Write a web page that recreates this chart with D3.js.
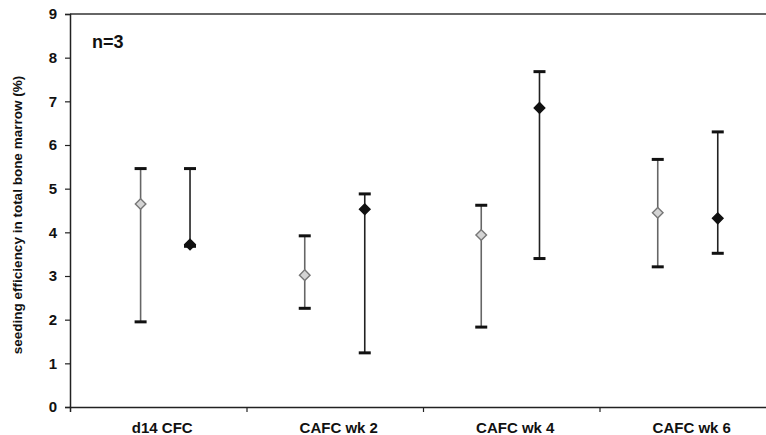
<!DOCTYPE html>
<html>
<head>
<meta charset="utf-8">
<script src="https://cdn.jsdelivr.net/npm/d3@7"></script>
<style>
  body { margin: 0; background: #fff; }
  svg text { font-family: "Liberation Sans", Arial, sans-serif; font-weight: bold; fill: #111; }
</style>
</head>
<body>
<div id="chart"></div>
<script>
// categories on the x axis
var categories = ["d14 CFC", "CAFC wk 2", "CAFC wk 4", "CAFC wk 6"];
var yTicks = [0, 1, 2, 3, 4, 5, 6, 7, 8, 9];

// grey series (open diamonds), x in category units
var greyX = [0.40, 1.33, 2.33, 3.33];
var greyMean = [4.65, 3.02, 3.94, 4.45];
var greyHigh = [5.46, 3.92, 4.62, 5.67];
var greyLow = [1.95, 2.26, 1.83, 3.21];

// black series (filled diamonds)
var blackX = [0.68, 1.67, 2.66, 3.67];
var blackMean = [3.72, 4.53, 6.85, 4.32];
var blackHigh = [5.46, 4.88, 7.68, 6.30];
var blackLow = [3.68, 1.24, 3.40, 3.52];

var W = 766, H = 435;
var margin = {top: 14, left: 70, bottom: 28};
var plotRight = 776; // plot runs past the picture edge

var svg = d3.select("#chart").append("svg")
  .attr("width", W)
  .attr("height", H);

var x = d3.scaleLinear()
  .domain([0, categories.length])
  .range([margin.left, plotRight]);

var y = d3.scaleLinear()
  .domain([0, 9])
  .range([H - margin.bottom, margin.top]);

// top border
svg.append("line")
  .attr("x1", margin.left).attr("x2", W)
  .attr("y1", y(9)).attr("y2", y(9))
  .attr("stroke", "#333").attr("stroke-width", 1.5);

// y axis
var yAxis = svg.append("g")
  .attr("transform", "translate(" + margin.left + ",0)")
  .call(d3.axisLeft(y).tickValues(yTicks).tickSize(5).tickPadding(8).tickFormat(d3.format("d")));
yAxis.select(".domain").attr("stroke", "#222").attr("stroke-width", 1.5);
yAxis.selectAll(".tick line").attr("stroke", "#222").attr("stroke-width", 1.2);
yAxis.selectAll("text").style("font-size", "15px");

// x axis with ticks between categories
var xAxis = svg.append("g")
  .attr("transform", "translate(0," + y(0) + ")")
  .call(d3.axisBottom(x).tickValues(d3.range(1, categories.length)).tickSize(5).tickFormat(""));
xAxis.select(".domain").attr("stroke", "#222").attr("stroke-width", 1.5);
xAxis.selectAll(".tick line").attr("stroke", "#222").attr("stroke-width", 1.2);

svg.selectAll(".catLabel")
  .data(categories)
  .enter()
  .append("text")
  .attr("class", "catLabel")
  .attr("x", function(d, i) { return x(i + 0.5) + 4; })
  .attr("y", 433)
  .attr("text-anchor", "middle")
  .style("font-size", "15px")
  .text(function(d) { return d; });

// y axis title
svg.append("text")
  .attr("transform", "translate(22,215) rotate(-90)")
  .attr("text-anchor", "middle")
  .style("font-size", "13.5px")
  .text("seeding efficiency in total bone marrow (%)");

svg.append("text")
  .attr("x", 92)
  .attr("y", 48)
  .style("font-size", "18px")
  .text("n=3");

function drawSeries(xs, mean, high, low, lineColor, fill, stroke) {
  var pts = xs.map(function(v, i) { return {x: v, m: mean[i], h: high[i], l: low[i]}; });
  var g = svg.append("g");

  g.selectAll(".bar").data(pts).enter().append("line")
    .attr("x1", function(d) { return x(d.x); })
    .attr("x2", function(d) { return x(d.x); })
    .attr("y1", function(d) { return y(d.h); })
    .attr("y2", function(d) { return y(d.l); })
    .attr("stroke", lineColor).attr("stroke-width", 1.6);

  ["h", "l"].forEach(function(k) {
    g.selectAll(".cap" + k).data(pts).enter().append("line")
      .attr("x1", function(d) { return x(d.x) - 6; })
      .attr("x2", function(d) { return x(d.x) + 6; })
      .attr("y1", function(d) { return y(d[k]); })
      .attr("y2", function(d) { return y(d[k]); })
      .attr("stroke", "#111").attr("stroke-width", 3);
  });

  g.selectAll(".mark").data(pts).enter().append("path")
    .attr("d", d3.symbol().type(d3.symbolSquare).size(56))
    .attr("transform", function(d) { return "translate(" + x(d.x) + "," + y(d.m) + ") rotate(45)"; })
    .attr("fill", fill)
    .attr("stroke", stroke)
    .attr("stroke-width", 1.4);
}

drawSeries(greyX, greyMean, greyHigh, greyLow, "#666", "#d4d4d4", "#777");
drawSeries(blackX, blackMean, blackHigh, blackLow, "#222", "#111", "#111");
</script>
</body>
</html>
